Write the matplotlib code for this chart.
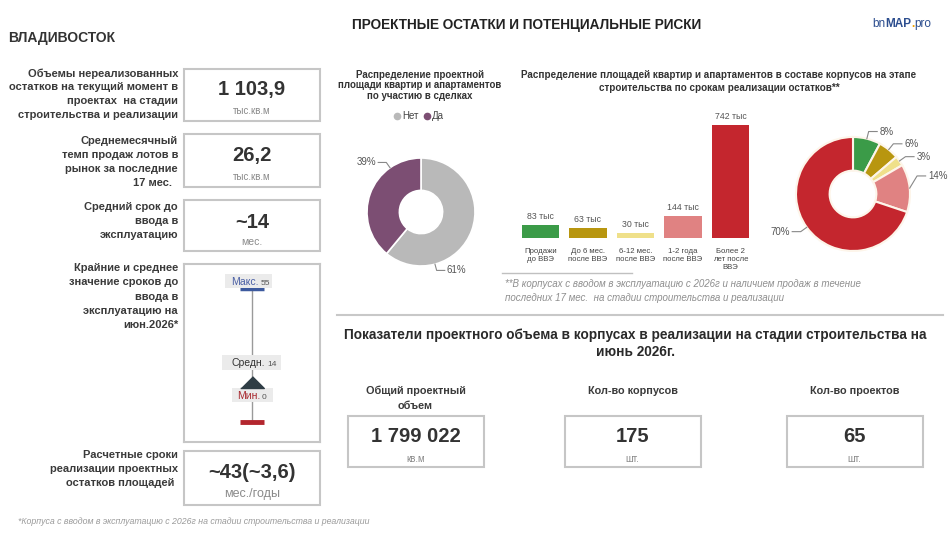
import matplotlib
matplotlib.use('Agg')
import matplotlib.pyplot as plt
import matplotlib.transforms as mtransforms
from matplotlib.patches import Rectangle
import numpy as np

plt.rcParams['font.family'] = ['Liberation Sans', 'DejaVu Sans']

W, H = 952, 537

# ---------- данные ----------
city = 'ВЛАДИВОСТОК'
main_title = 'ПРОЕКТНЫЕ ОСТАТКИ И ПОТЕНЦИАЛЬНЫЕ РИСКИ'

kpi_labels = [
    'Объемы нереализованных\nостатков на текущий момент в\nпроектах  на стадии\nстроительства и реализации',
    'Среднемесячный\nтемп продаж лотов в\nрынок за последние\n17 мес.  ',
    'Средний срок до\nввода в\nэксплуатацию',
    'Расчетные сроки\nреализации проектных\nостатков площадей ',
]
kpi_values = ['1 103,9', '26,2', '~14', '~43(~3,6)']
kpi_units = ['тыс.кв.м', 'тыс.кв.м', 'мес.', 'мес./годы']

range_label = 'Крайние и среднее\nзначение сроков до\nввода в\nэксплуатацию на\nиюн.2026*'
range_names = ['Макс.', 'Средн.', 'Мин.']
range_values = [55, 14, 0]

deal_title = 'Распределение проектной\nплощади квартир и апартаментов\nпо участию в сделках'
deal_labels = ['Нет', 'Да']
deal_shares = [61, 39]

term_title = ('Распределение площадей квартир и апартаментов в составе корпусов на этапе\n'
              'строительства по срокам реализации остатков**')
term_labels = ['Продажи\nдо ВВЭ', 'До 6 мес.\nпосле ВВЭ', '6-12 мес.\nпосле ВВЭ',
               '1-2 года\nпосле ВВЭ', 'Более 2\nлет после\nВВЭ']
term_values = [83, 63, 30, 144, 742]
term_note = ['**В корпусах с вводом в эксплуатацию с 2026г и наличием продаж в течение',
             'последних 17 мес.  на стадии строительства и реализации']

total_title = 'Показатели проектного объема в корпусах в реализации на стадии строительства на\nиюнь 2026г.'
total_names = ['Общий проектный\nобъем', 'Кол-во корпусов', 'Кол-во проектов']
total_values = ['1 799 022', '175', '65']
total_units = ['кв.м', 'шт.', 'шт.']

footnote = '*Корпуса с вводом в эксплуатацию с 2026г на стадии строительства и реализации'

# ---------- стиль ----------
deal_colors = ['#b9b9b9', '#7c4e73']
term_colors = ['#3b9b48', '#b8960f', '#efe08a', '#e08282', '#c4262e']
box_edge = '#c6c6c6'
dark = '#333333'
grey = '#8a8a8a'

fig = plt.figure(figsize=(W / 100, H / 100), dpi=100)
fig.patch.set_facecolor('white')


def px_axes(x0, y0, x1, y1):
    return fig.add_axes([x0 / W, 1 - y1 / H, (x1 - x0) / W, (y1 - y0) / H])


bg = px_axes(0, 0, W, H)
bg.set_xlim(0, W)
bg.set_ylim(H, 0)
bg.axis('off')


def mtext(x, yc, s, step, **kw):
    # многострочный текст, каждая строка отдельно
    lines = s.split('\n')
    n = len(lines)
    for i, ln in enumerate(lines):
        bg.text(x, yc + (i - (n - 1) / 2) * step, ln, va='center', **kw)


def frame(x0, y0, x1, y1):
    bg.add_patch(Rectangle((x0, y0), x1 - x0, y1 - y0, fill=False, ec=box_edge, lw=1.5))


# заголовки
bg.text(527, 25, main_title, ha='center', va='center', fontsize=9.8, fontweight='bold', color='#222222')
bg.text(8, 38, city, ha='left', va='center', fontsize=10, fontweight='bold', color=dark)

# логотип
logo_parts = [('bn', 'normal', '#2d4e8f'), ('MAP', 'bold', '#2d4e8f'),
              ('.', 'bold', '#f0a000'), ('pro', 'normal', '#2d4e8f')]
prev = bg.text(872, 30, logo_parts[0][0], ha='left', va='bottom', fontsize=8.5,
               fontweight=logo_parts[0][1], color=logo_parts[0][2])
for s, fw, c in logo_parts[1:]:
    prev = bg.annotate(s, xy=(1, 0), xycoords=prev, ha='left', va='bottom', fontsize=8.5,
                       fontweight=fw, color=c)

# ---------- левая панель ----------
kpi_boxes = [(69, 121), (134, 187), (200, 251), (451, 505)]
kpi_label_y = [94.5, 161.5, 221.5, 469]
kpi_value_y = [89, 155, 222, 472]
kpi_unit_y = [111, 177, 242, 494]
kpi_unit_size = [7, 7, 7.5, 9]
for i in range(4):
    y0, y1 = kpi_boxes[i]
    frame(184, y0, 320, y1)
    mtext(178, kpi_label_y[i], kpi_labels[i], 14, ha='right', fontsize=8,
          fontweight='bold', color='#3a3a3a')
    bg.text(252, kpi_value_y[i], kpi_values[i], ha='center', va='center', fontsize=14.5,
            fontweight='bold', color=dark)
    bg.text(252, kpi_unit_y[i], kpi_units[i], ha='center', va='center',
            fontsize=kpi_unit_size[i], color=grey)

mtext(178, 296.5, range_label, 14.2, ha='right', fontsize=8, fontweight='bold', color='#3a3a3a')

# диапазон сроков
ax_r = px_axes(184, 264, 320, 442)
vmax, vavg, vmin = range_values
span = vmax - vmin
ax_r.set_xlim(0, 1)
ax_r.set_ylim(vmin - span * 0.15, vmax + span * 0.19)
ax_r.set_xticks([])
ax_r.set_yticks([])
for sp in ax_r.spines.values():
    sp.set_color(box_edge)
    sp.set_linewidth(1.5)
ax_r.vlines(0.5, vmin, vmax, color='#9a9a9a', lw=1, zorder=1)
ax_r.hlines(vmax, 0.41, 0.59, color='#3d5a9e', lw=2.5, zorder=2)
ax_r.hlines(vmin, 0.41, 0.59, color='#b3262e', lw=3.5, zorder=2)
ax_r.plot(0.5, vavg, marker=[(-1, 0), (1, 0), (0, 1)], ms=17, color='#2f3d45',
          ls='none', zorder=4)

tag_colors = ['#4a5fa5', '#333333', '#a8282e']
# смещение центра (px), ширина, высота, правый край названия
tag_layout = [(-3.5, 8, 47, 14, 7), (-0.5, 25.5, 59, 15, 13), (0.5, 27, 41, 14, 8)]
for name, val, c, (dx, dy, w, h, rx) in zip(range_names, range_values, tag_colors, tag_layout):
    tr = fig.dpi_scale_trans + mtransforms.ScaledTranslation(0.5, val, ax_r.transData)
    ax_r.add_patch(Rectangle(((dx - w / 2) / 100, (dy - h / 2) / 100), w / 100, h / 100,
                             transform=tr, fc='#ebebeb', ec='none', zorder=3, clip_on=False))
    ax_r.text(rx / 100, (dy - 3.7) / 100, name, transform=tr, ha='right', va='baseline',
              fontsize=7.5, color=c, zorder=5)
    ax_r.text((rx + 2) / 100, (dy - 3.7) / 100, str(val), transform=tr, ha='left',
              va='baseline', fontsize=6, color='#555555', zorder=5)

bg.text(18, 521, footnote, ha='left', va='center', fontsize=6.3, style='italic', color='#9a9a9a')


# ---------- кольцевые диаграммы ----------
def leader(ax, ang, r_el, text, side, ext=0.15, lift=0.0):
    a = np.deg2rad(ang)
    x0, y0 = np.cos(a), np.sin(a)
    x1, y1 = r_el * x0, r_el * y0 + lift
    x2 = x1 + side * ext
    ax.plot([x0, x1, x2], [y0, y1, y1], color='#888888', lw=0.8, clip_on=False)
    ax.text(x2 + side * 0.04, y1, text, ha='left' if side > 0 else 'right', va='center',
            fontsize=7, color='#555555', clip_on=False)


mtext(420, 85.5, deal_title, 10.5, ha='center', fontsize=7, fontweight='bold', color=dark)
leg_x = [397, 427]
for lx, lab, c in zip(leg_x, deal_labels, deal_colors):
    bg.plot(lx, 116, 'o', ms=4.5, color=c)
    bg.text(lx + 5, 116, lab, ha='left', va='center', fontsize=7, color='#444444')

ax_p1 = px_axes(421 - 54, 212 - 54, 421 + 54, 212 + 54)
ax_p1.pie(deal_shares, colors=deal_colors, startangle=90, counterclock=False, radius=1,
          wedgeprops=dict(width=0.6, edgecolor='white', linewidth=1.2))
ax_p1.set_xlim(-1, 1)
ax_p1.set_ylim(-1, 1)
deal_anchor = [-75, 125]
for share, ang in zip(deal_shares, deal_anchor):
    side = 1 if np.cos(np.deg2rad(ang)) > 0 else -1
    leader(ax_p1, ang, 1.12, f'{share}%', side)

ax_p2 = px_axes(853 - 57, 194 - 57, 853 + 57, 194 + 57)
wedges, _ = ax_p2.pie(term_values, colors=term_colors, startangle=90, counterclock=False,
                      radius=1, wedgeprops=dict(width=0.59, edgecolor='#fdf5ea', linewidth=1.5))
ax_p2.set_xlim(-1, 1)
ax_p2.set_ylim(-1, 1)
total = sum(term_values)
# подъём подписей, чтобы они не слипались (как в исходнике)
term_lift = [0, 0, 0, 0.2, 0]
for wdg, v, lift in zip(wedges, term_values, term_lift):
    mid = (wdg.theta1 + wdg.theta2) / 2
    side = 1 if np.cos(np.deg2rad(mid)) > 0 else -1
    leader(ax_p2, mid, 1.13, f'{v / total * 100:.0f}%', side, lift=lift)

# ---------- столбцы ----------
mtext(719, 81.5, term_title, 12.7, ha='center', fontsize=7.1, fontweight='bold', color=dark)
ax_b = px_axes(540.5 - 23.75, 115, 730.5 + 23.75, 238)
x = np.arange(len(term_values))
ax_b.bar(x, term_values, width=0.78, color=term_colors)
ax_b.set_xlim(-0.5, len(term_values) - 0.5)
ax_b.set_ylim(0, max(term_values) * 1.09)
for sp in ax_b.spines.values():
    sp.set_visible(False)
ax_b.set_yticks([])
ax_b.set_xticks(x)
ax_b.set_xticklabels(term_labels, fontsize=5.6, color='#444444', linespacing=1.25)
ax_b.tick_params(axis='x', length=0, pad=7)
ax_b.patch.set_alpha(0)
for xi, v in zip(x, term_values):
    ax_b.annotate(f'{v} тыс', (xi, v), xytext=(0, 3), textcoords='offset points',
                  ha='center', va='bottom', fontsize=6.3, color='#555555')

bg.plot([502, 632], [273, 273], color='#c0c0c0', lw=1)
for i, ln in enumerate(term_note):
    bg.text(505, 284 + 14 * i, ln, ha='left', va='center', fontsize=7, style='italic',
            color='#8f8f8f')

# ---------- нижний блок ----------
bg.plot([337, 943], [315, 315], color='#c8c8c8', lw=1.5)
mtext(635, 343.5, total_title, 17, ha='center', fontsize=9.8, fontweight='bold', color='#2a2a2a')
total_cx = [415.5, 632.5, 854.5]
for cx, name, val, unit in zip(total_cx, total_names, total_values, total_units):
    frame(cx - 68, 416, cx + 68, 467)
    ny = 398.5 if '\n' in name else 391.5
    mtext(cx, ny, name, 15, ha='center', fontsize=7.8, fontweight='bold', color='#3a3a3a')
    bg.text(cx, 437, val, ha='center', va='center', fontsize=14.5, fontweight='bold', color=dark)
    bg.text(cx, 459, unit, ha='center', va='center', fontsize=7, color=grey)

fig.savefig('out.png', dpi=100)
